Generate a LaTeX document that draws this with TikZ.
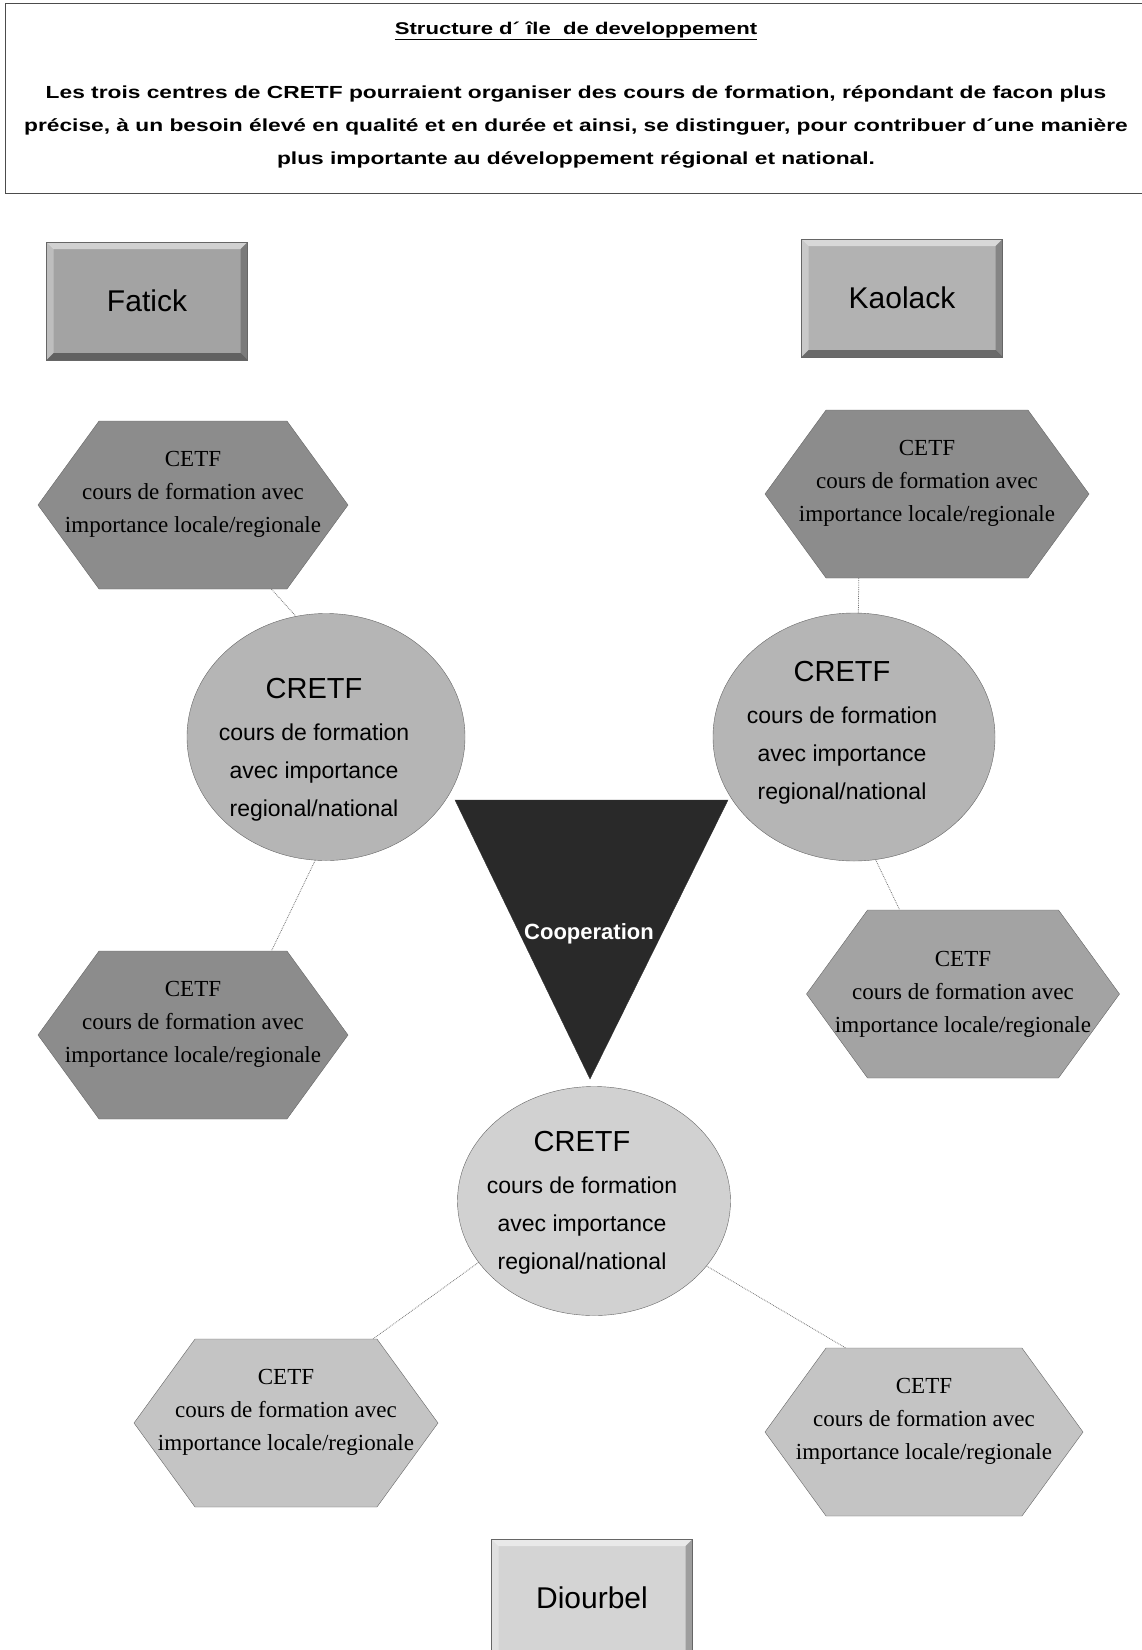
\documentclass[tikz,border=0pt]{standalone}
\usepackage{fontspec}
\setmainfont{Liberation Sans}
\newfontfamily\hexfont{Liberation Serif}
\newfontfamily\widefont[FakeStretch=1.3]{Liberation Sans}
\usetikzlibrary{shapes.geometric,shapes.symbols}

\definecolor{hexDark}{gray}{0.55}
\definecolor{hexMid}{gray}{0.64}
\definecolor{hexLight}{gray}{0.77}
\definecolor{cretfGray}{gray}{0.71}
\definecolor{cretfLight}{gray}{0.82}
\definecolor{coopGray}{gray}{0.16}
\definecolor{fatickGray}{gray}{0.64}
\definecolor{kaolackGray}{gray}{0.7}
\definecolor{diourbelGray}{gray}{0.83}

\newcommand\cretfText{{\fontsize{29}{30}\selectfont CRETF}\\[4pt]cours de formation\\avec importance\\regional/national}
\newcommand\cetfText{CETF\\cours de formation avec\\importance locale/regionale}

\begin{document}
\begin{tikzpicture}[x=1pt,y=-1pt,
	region/.style={shape=rectangle,minimum width=201,minimum height=118,draw=black!60,fill=#1,font=\fontsize{30}{36}\selectfont,
		path picture={
			\fill[white,opacity=.5] (path picture bounding box.north west) -- (path picture bounding box.north east) -- ++(-7pt,-7pt) -- ([shift={(7pt,-7pt)}]path picture bounding box.north west) -- cycle;
			\fill[white,opacity=.3] (path picture bounding box.north west) -- (path picture bounding box.south west) -- ++(7pt,7pt) -- ([shift={(7pt,-7pt)}]path picture bounding box.north west) -- cycle;
			\fill[black,opacity=.4] (path picture bounding box.south west) -- (path picture bounding box.south east) -- ++(-7pt,7pt) -- ([shift={(7pt,7pt)}]path picture bounding box.south west) -- cycle;
			\fill[black,opacity=.25] (path picture bounding box.south east) -- (path picture bounding box.north east) -- ++(-7pt,-7pt) -- ([shift={(-7pt,7pt)}]path picture bounding box.south east) -- cycle;
		}},
	cretf/.style={shape=ellipse,draw=black!60,fill=#1,inner sep=0pt},
	cretfLabel/.style={align=center,font=\fontsize{23}{38}\selectfont,xshift=-12pt},
	cetf/.style={shape=signal,signal to=east and west,signal pointer angle=108,minimum width=310,minimum height=168,inner xsep=-45pt,inner ysep=0pt,draw=black!60,fill=#1,align=center,font=\hexfont\fontsize{23}{33}\selectfont},
	link/.style={densely dotted,draw=black!55,line width=0.8pt}]
	\useasboundingbox (0,0) rectangle (1142,1650);

	% intro box
	\draw[black!70] (5,3) rectangle (1160,193);
	\node (titleNode) at (576,31) [font=\widefont\bfseries\fontsize{17}{20}\selectfont] {\underline{Structure d´ île\ \ de developpement}};
	\node (introNode) at (576,127) [align=center,font=\widefont\bfseries\fontsize{17.5}{33}\selectfont] {Les trois centres de CRETF pourraient organiser des cours de formation, répondant de facon plus\\précise, à un besoin élevé en qualité et en durée et ainsi, se distinguer, pour contribuer d´une manière\\plus importante au développement régional et national.};

	% regions
	\node (fatickNode) at (147,301)[region=fatickGray] {Fatick};
	\node (kaolackNode) at (902,298)[region=kaolackGray] {Kaolack};
	\node (diourbelNode) at (592,1598)[region=diourbelGray] {Diourbel};

	% centres
	\node (cretfFatick) at (326,737)[cretf=cretfGray,minimum width=278,minimum height=247,label={[cretfLabel,yshift=-13pt]center:\cretfText}] {};
	\node (cretfKaolack) at (854,737)[cretf=cretfGray,minimum width=282,minimum height=248,label={[cretfLabel,yshift=4pt]center:\cretfText}] {};
	\node (cretfDiourbel) at (594,1201)[cretf=cretfLight,minimum width=273,minimum height=229,label={[cretfLabel,yshift=-2pt]center:\cretfText}] {};

	\node (cetfFatickA) at (193,505)[cetf=hexDark] {\cetfText\\[-6pt]\mbox{}};
	\node (cetfFatickB) at (193,1035)[cetf=hexDark] {\cetfText\\[-6pt]\mbox{}};
	\node (cetfKaolackA) at (927,494)[cetf=hexDark,minimum width=324] {\cetfText\\[-6pt]\mbox{}};
	\node (cetfKaolackB) at (963,994)[cetf=hexMid,minimum width=313] {\cetfText};
	\node (cetfDiourbelA) at (286,1423)[cetf=hexLight,minimum width=304] {\cetfText\\[-6pt]\mbox{}};
	\node (cetfDiourbelB) at (924,1432)[cetf=hexLight,minimum width=318] {\cetfText\\[-6pt]\mbox{}};

	% cooperation
	\fill[coopGray,draw=black!80] (455,800) -- (728,800) -- (590,1079) -- cycle;
	\node (coopNode) at (589,934)[text=white,font=\bfseries\fontsize{22}{26}\selectfont] {Cooperation};

	\draw[link] (cetfFatickA.-47) -- (cretfFatick.104);
	\draw[link] (cretfFatick.265) -- (cetfFatickB.47);
	\draw[link] (cetfKaolackA.231) -- (cretfKaolack.88);
	\draw[link] (cretfKaolack.-80) -- (cetfKaolackB.127);
	\draw[link] (cretfDiourbel.208) -- (cetfDiourbelA.44);
	\draw[link] (cretfDiourbel.-30) -- (cetfDiourbelB.133);
\end{tikzpicture}
\end{document}
